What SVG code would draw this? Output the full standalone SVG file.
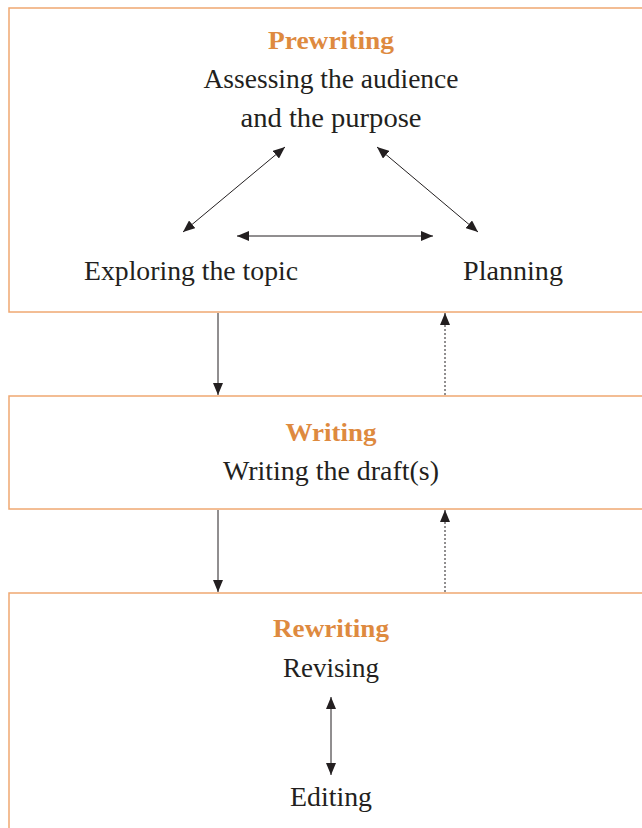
<svg xmlns="http://www.w3.org/2000/svg" width="642" height="828" viewBox="0 0 642 828">
<style>
.box{fill:#fff;stroke:#EFA872;stroke-width:1.5}
.title{font-family:"Liberation Serif",serif;font-weight:bold;font-size:25px;fill:#DE8A3F;text-anchor:middle}
.t{font-family:"Liberation Serif",serif;font-size:26.5px;fill:#231F20;text-anchor:middle}
.ln{stroke:#231F20;stroke-width:1;fill:none}
.dot{stroke:#231F20;stroke-width:1;fill:none;stroke-dasharray:2,2}
</style>
<defs>
<marker id="ah" viewBox="0 0 12 10" refX="12" refY="5" markerWidth="12" markerHeight="10" markerUnits="userSpaceOnUse" orient="auto-start-reverse">
<path d="M0,0 L12,5 L0,10 Z" fill="#231F20"/>
</marker>
</defs>
<g id="prewriting">
<rect class="box" x="9" y="8" width="660" height="304"/>
<text class="title" x="331" y="49" textLength="126" lengthAdjust="spacingAndGlyphs">Prewriting</text>
<text class="t" x="331" y="88" textLength="255" lengthAdjust="spacingAndGlyphs">Assessing the audience</text>
<text class="t" x="331" y="127" textLength="181" lengthAdjust="spacingAndGlyphs">and the purpose</text>
<text class="t" x="191" y="280" textLength="214" lengthAdjust="spacingAndGlyphs">Exploring the topic</text>
<text class="t" x="513" y="280" textLength="100" lengthAdjust="spacingAndGlyphs">Planning</text>
</g>
<g id="writing">
<rect class="box" x="9" y="396" width="660" height="113"/>
<text class="title" x="331" y="441" textLength="91" lengthAdjust="spacingAndGlyphs">Writing</text>
<text class="t" x="331" y="480" textLength="216" lengthAdjust="spacingAndGlyphs">Writing the draft(s)</text>
</g>
<g id="rewriting">
<rect class="box" x="9" y="593" width="660" height="260"/>
<text class="title" x="331" y="637" textLength="116" lengthAdjust="spacingAndGlyphs">Rewriting</text>
<text class="t" x="331" y="677" textLength="96" lengthAdjust="spacingAndGlyphs">Revising</text>
<text class="t" x="331" y="806" textLength="82" lengthAdjust="spacingAndGlyphs">Editing</text>
</g>
<g id="connectors">
<line class="ln" x1="285" y1="147" x2="183" y2="232" marker-start="url(#ah)" marker-end="url(#ah)"/>
<line class="ln" x1="377" y1="147" x2="478" y2="232" marker-start="url(#ah)" marker-end="url(#ah)"/>
<line class="ln" x1="237" y1="236" x2="433" y2="236" marker-start="url(#ah)" marker-end="url(#ah)"/>
<line class="ln" x1="218" y1="313" x2="218" y2="395" marker-end="url(#ah)"/>
<line class="dot" x1="445" y1="395" x2="445" y2="313" marker-end="url(#ah)"/>
<line class="ln" x1="218" y1="510" x2="218" y2="592" marker-end="url(#ah)"/>
<line class="dot" x1="445" y1="592" x2="445" y2="510" marker-end="url(#ah)"/>
<line class="ln" x1="331" y1="697" x2="331" y2="775" marker-start="url(#ah)" marker-end="url(#ah)"/>
</g>
</svg>
